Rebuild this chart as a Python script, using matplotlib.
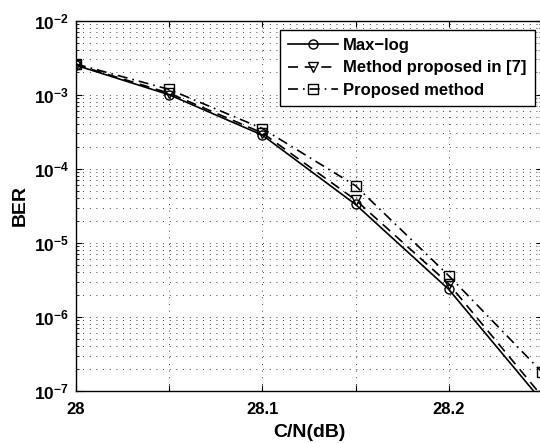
import matplotlib
matplotlib.use("Agg")
import matplotlib.pyplot as plt
from matplotlib.ticker import LogLocator, NullFormatter

plt.rcParams['font.family'] = ['Liberation Sans', 'DejaVu Sans']
plt.rcParams['font.weight'] = 'bold'
plt.rcParams['mathtext.fontset'] = 'custom'
plt.rcParams['mathtext.rm'] = 'Liberation Sans:bold'
plt.rcParams['mathtext.bf'] = 'Liberation Sans:bold'
plt.rcParams['mathtext.default'] = 'bf'

cn = [28.0, 28.05, 28.1, 28.15, 28.2, 28.25]
ber_maxlog = [2.5e-3, 1.0e-3, 2.85e-4, 3.3e-5, 2.35e-6, 7.3e-8]
ber_ref7 = [2.55e-3, 1.05e-3, 3.05e-4, 3.8e-5, 2.8e-6, 8.5e-8]
ber_proposed = [2.6e-3, 1.18e-3, 3.5e-4, 5.9e-5, 3.6e-6, 1.8e-7]
labels = ['Max\u2212log', 'Method proposed in [7]', 'Proposed method']

xticks = [28.0, 28.05, 28.1, 28.15, 28.2, 28.25]
xticklabels = ['28', '', '28.1', '', '28.2', '']
yticks = [1e-7, 1e-6, 1e-5, 1e-4, 1e-3, 1e-2]
yticklabels = [r'$\mathbf{10^{-7}}$', r'$\mathbf{10^{-6}}$', r'$\mathbf{10^{-5}}$',
               r'$\mathbf{10^{-4}}$', r'$\mathbf{10^{-3}}$', r'$\mathbf{10^{-2}}$']

fig = plt.figure(figsize=(5.4, 4.43), dpi=100)
ax = fig.add_axes([76/540, 52/443, (542-76)/540, (391-20.7)/443])

lw = 1.2
ms = 6.5
ax.plot(cn, ber_maxlog, '-', color='black', lw=lw, marker='o', ms=ms, mfc='none', mew=1.0, label=labels[0])
ax.plot(cn, ber_ref7, '--', color='black', lw=lw, marker='v', ms=ms, mfc='none', mew=1.0, label=labels[1], dashes=(6, 4))
ax.plot(cn, ber_proposed, '-.', color='black', lw=lw, marker='s', ms=ms, mfc='none', mew=1.0, label=labels[2], dashes=(6, 3, 1, 3))

ax.set_yscale('log')
ax.set_xlim(28.0, 28.25)
ax.set_ylim(1e-7, 1e-2)
ax.set_xticks(xticks)
ax.set_xticklabels(xticklabels, fontsize=12, fontweight='bold')
ax.set_yticks(yticks)
ax.set_yticklabels(yticklabels, fontsize=12.5)
ax.yaxis.set_minor_locator(LogLocator(base=10, subs=range(2, 10), numticks=20))
ax.yaxis.set_minor_formatter(NullFormatter())
ax.tick_params(which='both', direction='in', top=True, right=True)
ax.tick_params(which='major', length=4, width=0.8)
ax.tick_params(which='minor', length=2, width=0.6)
ax.tick_params(axis='x', pad=8)
ax.tick_params(axis='y', pad=5)

ax.grid(True, which='major', axis='both', color='black', lw=0.6, linestyle=(0, (1, 7)))
ax.grid(True, which='minor', axis='y', color='black', lw=0.6, linestyle=(0, (1, 7)))

for s in ax.spines.values():
    s.set_linewidth(1.0)

ax.set_xlabel('C/N(dB)', fontsize=14, fontweight='bold', labelpad=5)
ax.set_ylabel('BER', fontsize=14, fontweight='bold', labelpad=4)

leg = ax.legend(loc='upper right', bbox_to_anchor=(0.985, 0.976), prop={'size': 12, 'weight': 'bold'},
                fancybox=False, framealpha=1, edgecolor='black', handlelength=3.0,
                handletextpad=0.3, labelspacing=0.45, borderpad=0.5, borderaxespad=0)
leg.get_frame().set_linewidth(1.0)

fig.savefig('out.png', dpi=100)
